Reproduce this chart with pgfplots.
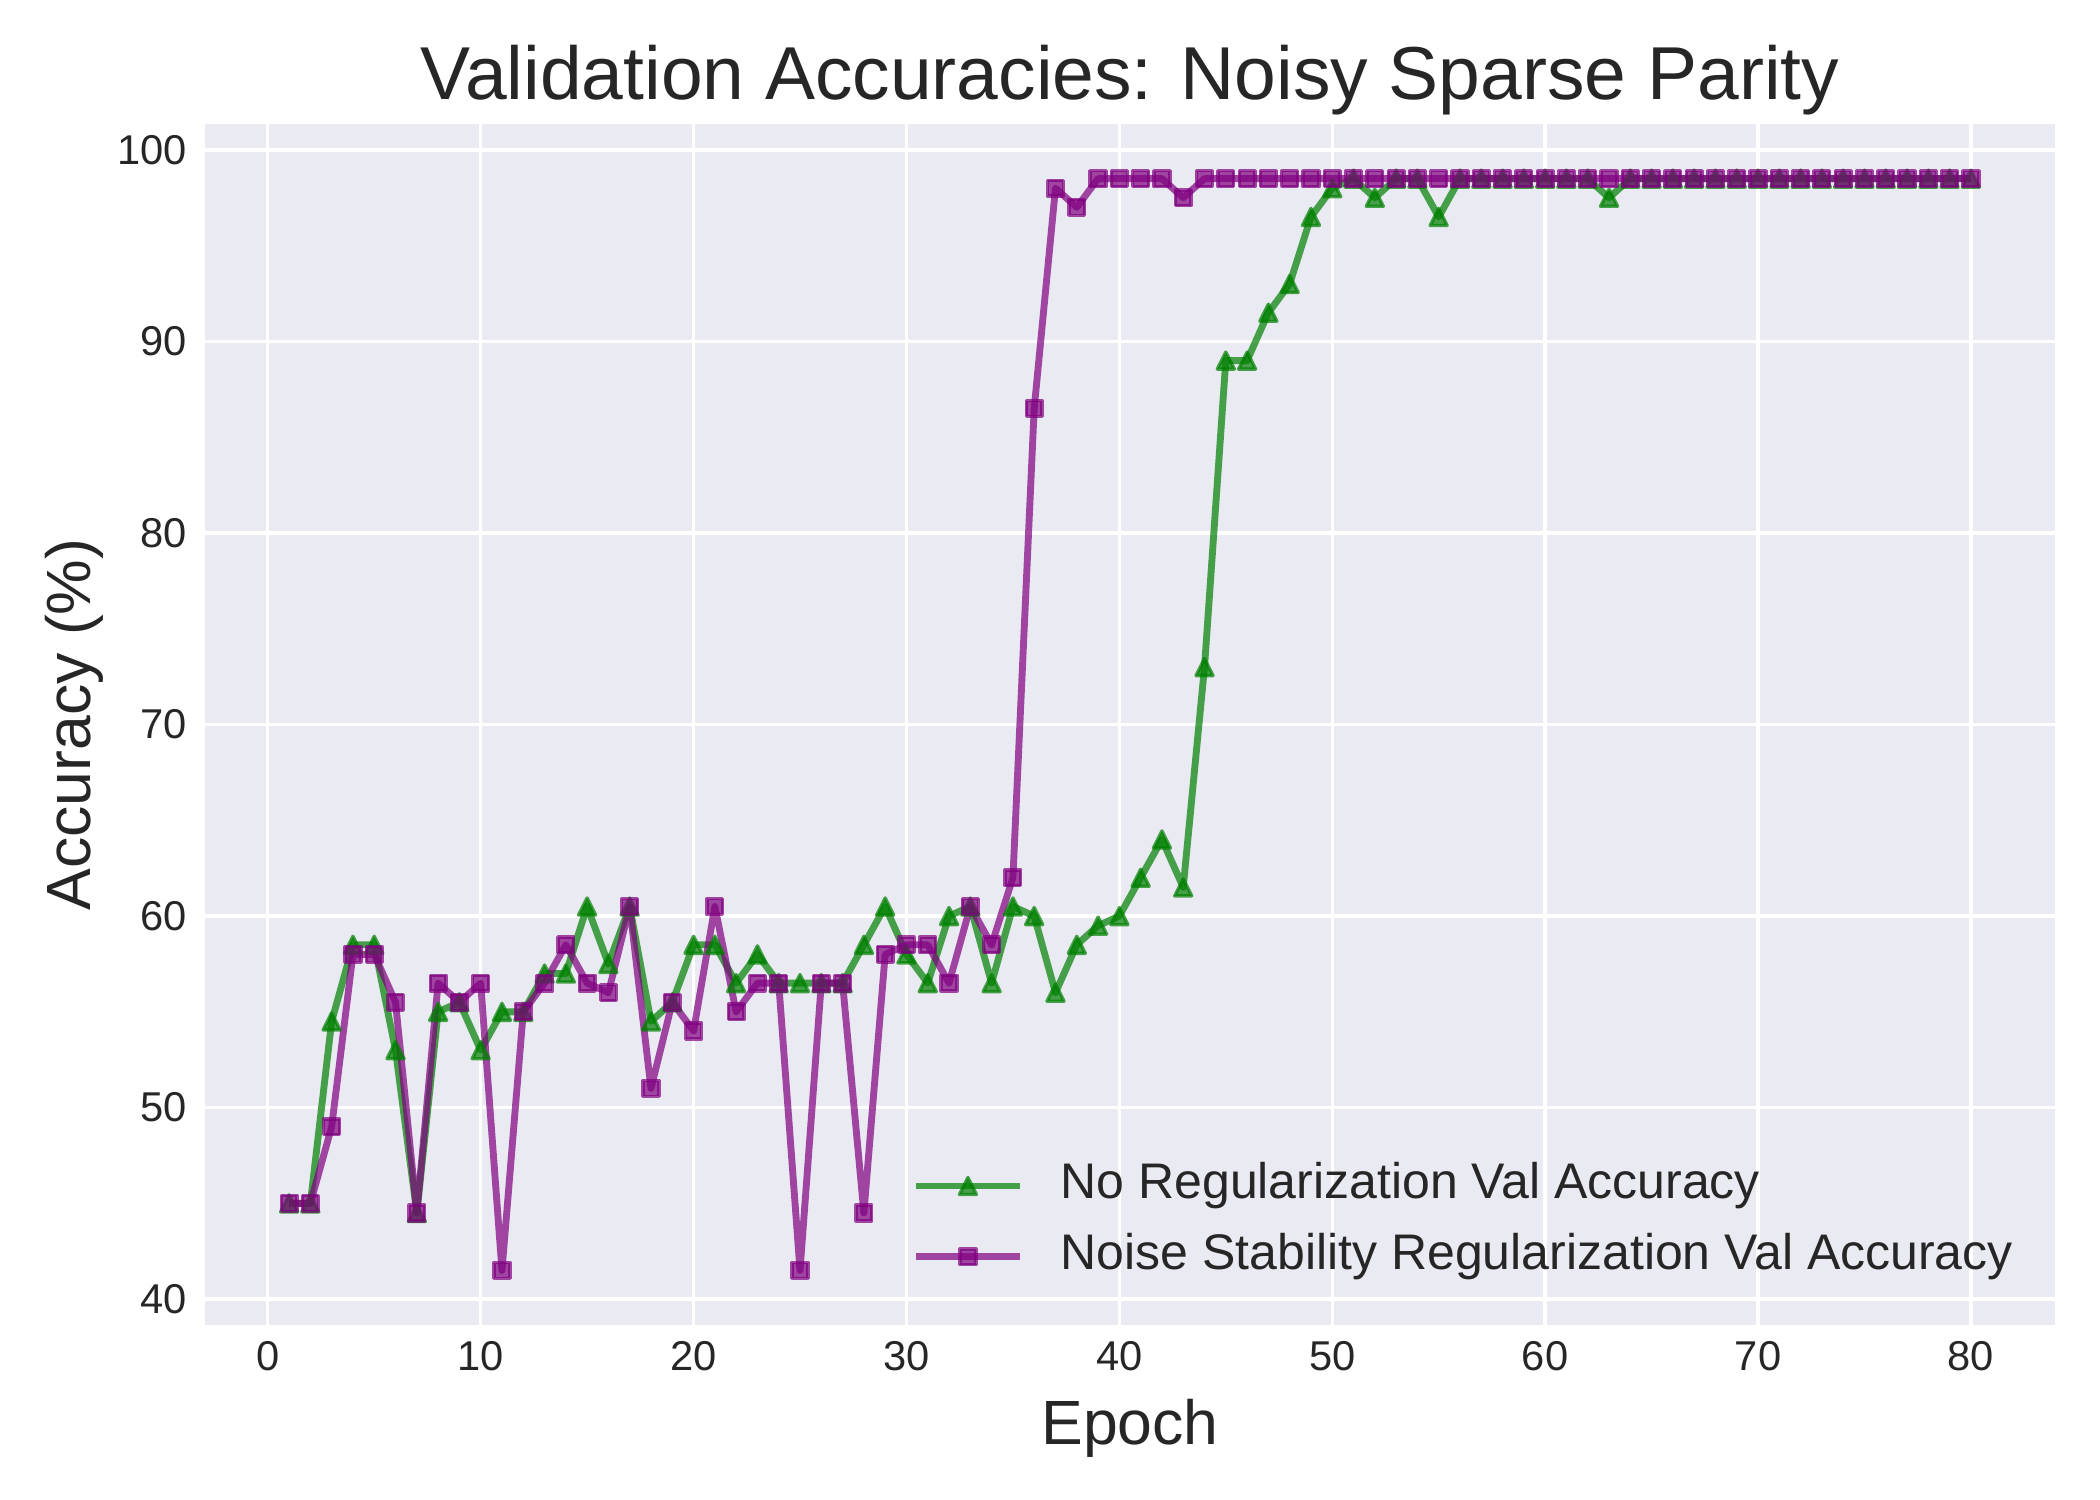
\documentclass[border=0pt]{standalone}
\usepackage{fontspec}
\setmainfont{Liberation Sans}
\usepackage{pgfplots}
\pgfplotsset{compat=1.18}
\definecolor{bg}{HTML}{EAEAF2}
\definecolor{txt}{HTML}{262626}
\definecolor{mgreen}{RGB}{0,128,0}
\definecolor{mpurple}{RGB}{128,0,128}
\pgfdeclareplotmark{mtri}{%
 \pgfpathmoveto{\pgfqpoint{0pt}{\pgfplotmarksize}}%
 \pgfpathlineto{\pgfqpoint{-\pgfplotmarksize}{-\pgfplotmarksize}}%
 \pgfpathlineto{\pgfqpoint{\pgfplotmarksize}{-\pgfplotmarksize}}%
 \pgfpathclose
 \pgfusepathqfillstroke}
\begin{document}
\begin{tikzpicture}
\begin{axis}[
 at={(0,0)}, anchor=south west,
 scale only axis, width=6.1667in, height=4.0033in,
 xmin=-2.95, xmax=83.95, ymin=38.65, ymax=101.35,
 axis background/.style={fill=bg},
 axis line style={draw=none},
 major tick length=0pt,
 xtick={0,10,...,80}, ytick={40,50,...,100},
 grid=major, grid style={white, line width=0.8bp},
 /pgf/number format/assume math mode=true,
 ticklabel style={font=\fontsize{10bp}{12bp}\selectfont, text=txt, inner sep=0pt},
 xticklabel style={anchor=north, yshift=-0.0533in},
 yticklabel style={anchor=east, xshift=-0.0567in},
 title={Validation Accuracies: Noisy Sparse Parity},
 every axis title/.style={font=\fontsize{18bp}{21bp}\selectfont, text=txt, inner sep=0pt, at={(axis description cs:0.5,1)}, anchor=base, yshift=0.0833in},
 xlabel={Epoch},
 xlabel style={font=\fontsize{15bp}{18bp}\selectfont, text=txt, inner sep=0pt, at={(axis description cs:0.5,0)}, anchor=base, yshift=-0.3967in},
 ylabel={Accuracy (\%)},
 ylabel style={font=\fontsize{15bp}{18bp}\selectfont, text=txt, inner sep=0pt, at={([xshift=-0.3833in]axis description cs:0,0.5)}, anchor=base},
 legend style={at={(axis description cs:0.9772,0.036)}, anchor=south east, draw=none, fill=none,
   font=\fontsize{12bp}{14bp}\selectfont, text=txt, inner sep=0pt, outer sep=0pt, row sep=5bp,
   nodes={inner sep=0pt, text height=9bp, text depth=3bp},
   /tikz/every odd column/.append style={column sep=8.9bp}},
 legend cell align=left,
 legend image code/.code={\draw[mark repeat=2,mark phase=2] plot coordinates {(0bp,0bp) (12.5bp,0bp) (25bp,0bp)};},
 every axis plot/.append style={line width=1.65bp, line join=round},
]
\addplot[color=mgreen, draw opacity=0.7, mark=mtri, mark size=2.05bp,
  mark options={solid, fill=mgreen, fill opacity=0.7, draw opacity=0.7, line width=0.8bp}] coordinates {
(1,45) (2,45) (3,54.5) (4,58.5) (5,58.5) (6,53) (7,44.5) (8,55) (9,55.5) (10,53)
(11,55) (12,55) (13,57) (14,57) (15,60.5) (16,57.5) (17,60.5) (18,54.5) (19,55.5) (20,58.5)
(21,58.5) (22,56.5) (23,58) (24,56.5) (25,56.5) (26,56.5) (27,56.5) (28,58.5) (29,60.5) (30,58)
(31,56.5) (32,60) (33,60.5) (34,56.5) (35,60.5) (36,60) (37,56) (38,58.5) (39,59.5) (40,60)
(41,62) (42,64) (43,61.5) (44,73) (45,89) (46,89) (47,91.5) (48,93) (49,96.5) (50,98)
(51,98.5) (52,97.5) (53,98.5) (54,98.5) (55,96.5) (56,98.5) (57,98.5) (58,98.5) (59,98.5) (60,98.5)
(61,98.5) (62,98.5) (63,97.5) (64,98.5) (65,98.5) (66,98.5) (67,98.5) (68,98.5) (69,98.5) (70,98.5)
(71,98.5) (72,98.5) (73,98.5) (74,98.5) (75,98.5) (76,98.5) (77,98.5) (78,98.5) (79,98.5) (80,98.5)
};
\addlegendentry{No Regularization Val Accuracy}
\addplot[color=mpurple, draw opacity=0.7, mark=square*, mark size=1.9bp,
  mark options={solid, fill=mpurple, fill opacity=0.7, draw opacity=0.7, line width=0.8bp}] coordinates {
(1,45) (2,45) (3,49) (4,58) (5,58) (6,55.5) (7,44.5) (8,56.5) (9,55.5) (10,56.5)
(11,41.5) (12,55) (13,56.5) (14,58.5) (15,56.5) (16,56) (17,60.5) (18,51) (19,55.5) (20,54)
(21,60.5) (22,55) (23,56.5) (24,56.5) (25,41.5) (26,56.5) (27,56.5) (28,44.5) (29,58) (30,58.5)
(31,58.5) (32,56.5) (33,60.5) (34,58.5) (35,62) (36,86.5) (37,98) (38,97) (39,98.5) (40,98.5)
(41,98.5) (42,98.5) (43,97.5) (44,98.5) (45,98.5) (46,98.5) (47,98.5) (48,98.5) (49,98.5) (50,98.5)
(51,98.5) (52,98.5) (53,98.5) (54,98.5) (55,98.5) (56,98.5) (57,98.5) (58,98.5) (59,98.5) (60,98.5)
(61,98.5) (62,98.5) (63,98.5) (64,98.5) (65,98.5) (66,98.5) (67,98.5) (68,98.5) (69,98.5) (70,98.5)
(71,98.5) (72,98.5) (73,98.5) (74,98.5) (75,98.5) (76,98.5) (77,98.5) (78,98.5) (79,98.5) (80,98.5)
};
\addlegendentry{Noise Stability Regularization Val Accuracy}
\end{axis}
\pgfresetboundingbox
\path[use as bounding box] (-0.6833in,-0.5833in) rectangle (6.3167in,4.4167in);
\end{tikzpicture}
\end{document}
